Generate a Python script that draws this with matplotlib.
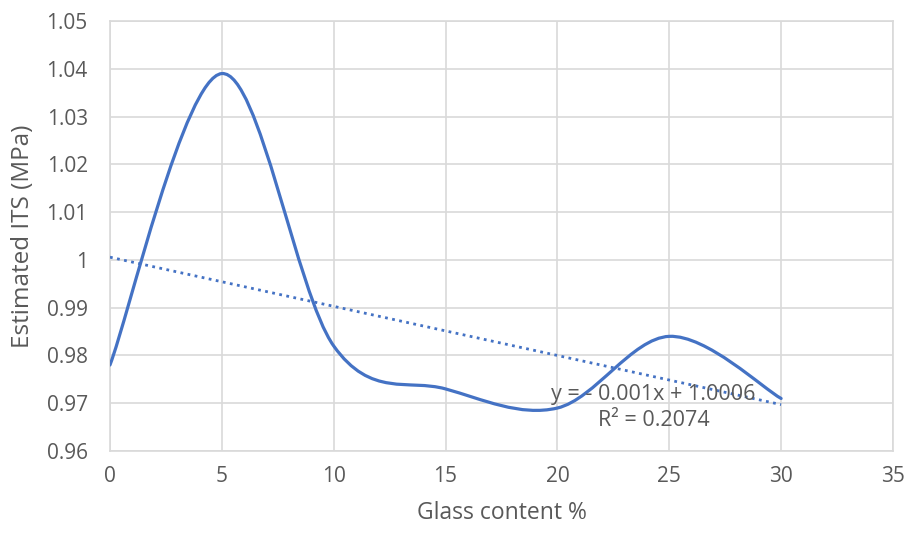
import numpy as np
import matplotlib.pyplot as plt
from matplotlib.path import Path
from matplotlib.patches import PathPatch

# data
glass_content = [0, 5, 10, 15, 20, 25, 30]
its_values = [0.978, 1.039, 0.982, 0.973, 0.969, 0.984, 0.971]
x_ticks = [0, 5, 10, 15, 20, 25, 30, 35]
y_ticks = [0.96, 0.97, 0.98, 0.99, 1.00, 1.01, 1.02, 1.03, 1.04, 1.05]
y_tick_labels = ['0.96', '0.97', '0.98', '0.99', '1', '1.01', '1.02', '1.03', '1.04', '1.05']
trend_text = 'y = - 0.001x + 1.0006\nR² = 0.2074'

plt.rcParams['font.family'] = ['Open Sans', 'DejaVu Sans']
text_grey = '#595959'
line_blue = '#4472C4'


def smooth_path(xs, ys):
    """Excel-like smoothed line: cubic Bezier with Catmull-Rom tangents"""
    pts = np.column_stack([xs, ys]).astype(float)
    verts = [pts[0]]
    codes = [Path.MOVETO]
    n = len(pts)
    for i in range(n - 1):
        p0 = pts[max(i - 1, 0)]
        p1 = pts[i]
        p2 = pts[i + 1]
        p3 = pts[min(i + 2, n - 1)]
        c1 = p1 + (p2 - p0) / 6.0
        c2 = p2 - (p3 - p1) / 6.0
        verts += [c1, c2, p2]
        codes += [Path.CURVE4] * 3
    return Path(verts, codes)


fig = plt.figure(figsize=(9.05, 5.33), dpi=100)
ax = fig.add_axes([0.1215, 0.1538, 0.8652, 0.8068])

ax.add_patch(PathPatch(smooth_path(glass_content, its_values), facecolor='none',
                       edgecolor=line_blue, lw=2.3, zorder=3, capstyle='round'))

slope, intercept = np.polyfit(glass_content, its_values, 1)
xt = np.array([0, 30])
ax.plot(xt, slope * xt + intercept, color=line_blue, lw=2, linestyle=(0, (1, 1.6)), zorder=3)

ax.text(24.3, 0.9691, trend_text, ha='center', va='center', fontsize=15.5,
        color=text_grey, linespacing=1.3, zorder=4)

ax.set_xlim(0, 35)
ax.set_ylim(0.96, 1.05)
ax.set_xticks(x_ticks)
ax.set_yticks(y_ticks)
ax.set_yticklabels(y_tick_labels)
ax.grid(True, color='#d9d9d9', lw=1.2)
ax.set_axisbelow(True)
for s in ax.spines.values():
    s.set_color('#d9d9d9')
    s.set_linewidth(1.2)
ax.tick_params(length=0, labelsize=15, labelcolor=text_grey)
ax.tick_params(axis='x', pad=11)
ax.tick_params(axis='y', pad=16)

ax.set_xlabel('Glass content %', fontsize=16.5, color=text_grey, labelpad=10)
ax.set_ylabel('Estimated ITS (MPa)', fontsize=17.5, color=text_grey, labelpad=8)

plt.savefig('out.png', dpi=100)
plt.close()
